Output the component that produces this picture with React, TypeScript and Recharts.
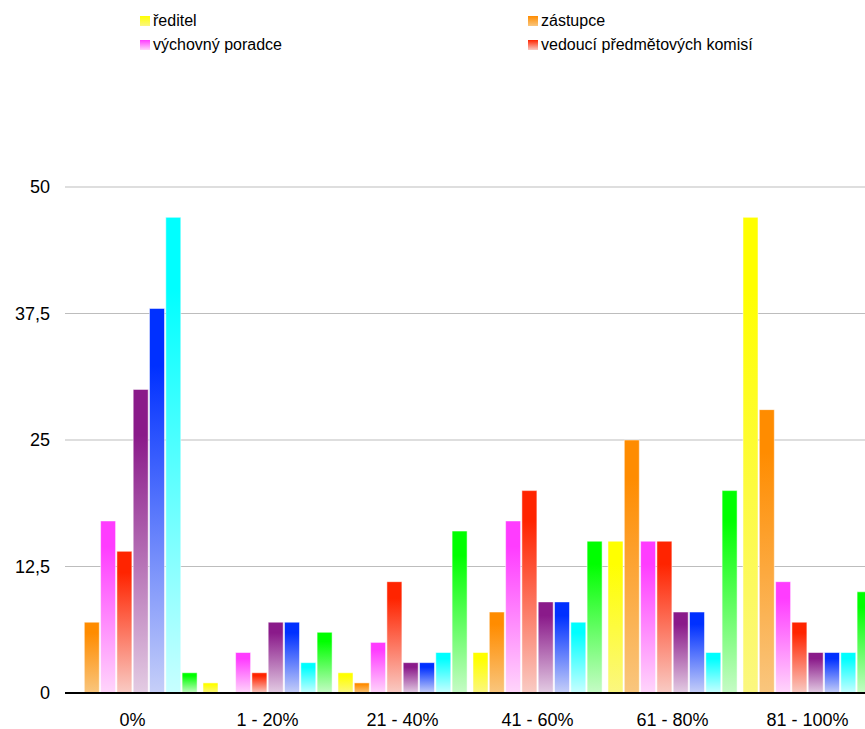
import React from "react";
import { BarChart, Bar, XAxis, YAxis, CartesianGrid } from "recharts";

const categories = ["0%", "1 - 20%", "21 - 40%", "41 - 60%", "61 - 80%", "81 - 100%"];

// answers per role, one value per category
const reditel = [0, 1, 2, 4, 15, 47];
const zastupce = [7, 0, 1, 8, 25, 28];
const poradce = [17, 4, 5, 17, 15, 11];
const vedouci = [14, 2, 11, 20, 15, 7];
const metodik = [30, 7, 3, 9, 8, 4];
const ucitele = [38, 7, 3, 9, 8, 4];
const zaci = [47, 3, 4, 7, 4, 4];
const rodice = [2, 6, 16, 15, 20, 10];

const seriesValues = [reditel, zastupce, poradce, vedouci, metodik, ucitele, zaci, rodice];
const seriesNames = [
  "ředitel",
  "zástupce",
  "výchovný poradce",
  "vedoucí předmětových komisí",
  "metodik prevence",
  "učitelé",
  "žáci",
  "rodiče",
];

const yTicks = [0, 12.5, 25, 37.5, 50];

// [top, bottom] of each bar gradient
const GRADIENTS: [string, string][] = [
  ["#ffff00", "#fbf780"],
  ["#ff8c00", "#f9c67e"],
  ["#ff3cff", "#ffd6fb"],
  ["#ff2400", "#f9cbc4"],
  ["#8a1a8a", "#e3cce3"],
  ["#0030ff", "#c6cff8"],
  ["#00ffff", "#c8ffff"],
  ["#00ff00", "#c6fbc6"],
];

const FONT = '"Liberation Sans", Arial, sans-serif';

const data = categories.map((name, i) => {
  const row: Record<string, string | number> = { name };
  seriesValues.forEach((vals, s) => {
    row[`s${s}`] = vals[i];
  });
  return row;
});

// only the first four entries fit in the box above the plot
const legendCols = [140, 528];
const legendRows = [15, 39];

const LegendBox = () => (
  <>
    {seriesNames.slice(0, 4).map((name, i) => (
      <div
        key={name}
        style={{
          position: "absolute",
          left: legendCols[i % 2],
          top: legendRows[Math.floor(i / 2)],
          height: 12,
          display: "flex",
          alignItems: "center",
          fontSize: 16,
          fontFamily: FONT,
          color: "#000",
          whiteSpace: "nowrap",
        }}
      >
        <span
          style={{
            display: "inline-block",
            width: 10,
            height: 10,
            marginRight: 3,
            background: `linear-gradient(${GRADIENTS[i][0]}, ${GRADIENTS[i][1]})`,
          }}
        />
        {name}
      </div>
    ))}
  </>
);

export default function App() {
  return (
    <div
      style={{
        position: "absolute",
        left: 0,
        top: 0,
        width: 865,
        height: 729,
        overflow: "hidden",
        background: "#fff",
        fontFamily: FONT,
      }}
    >
      <LegendBox />
      <BarChart
        width={880}
        height={729}
        data={data}
        margin={{ top: 187, right: 5, left: 0, bottom: 6 }}
        barSize={15}
        barGap={1.3}
        barCategoryGap={3}
      >
        <defs>
          {GRADIENTS.map(([top, bottom], i) => (
            <linearGradient key={i} id={`grad${i}`} x1="0" y1="0" x2="0" y2="1">
              <stop offset="0" stopColor={top} />
              <stop offset="0.15" stopColor={top} />
              <stop offset="1" stopColor={bottom} />
            </linearGradient>
          ))}
        </defs>
        <XAxis
          dataKey="name"
          height={30}
          interval={0}
          tickLine={false}
          tickSize={0}
          tickMargin={20}
          axisLine={{ stroke: "#000", strokeWidth: 2 }}
          tick={{ fill: "#000", fontSize: 18, fontFamily: FONT }}
        />
        <YAxis
          width={65}
          domain={[0, 50]}
          ticks={yTicks}
          interval={0}
          axisLine={false}
          tickLine={false}
          tickSize={0}
          tickMargin={15}
          tickFormatter={(v: number) => String(v).replace(".", ",")}
          tick={{ fill: "#000", fontSize: 18, fontFamily: FONT }}
        />
        {seriesNames.map((name, i) => (
          <Bar
            key={name}
            dataKey={`s${i}`}
            name={name}
            fill={`url(#grad${i})`}
            stroke="rgba(255,255,255,0.5)"
            strokeWidth={1}
            isAnimationActive={false}
          />
        ))}
        <CartesianGrid vertical={false} stroke="#bdbdbd" />
      </BarChart>
    </div>
  );
}
